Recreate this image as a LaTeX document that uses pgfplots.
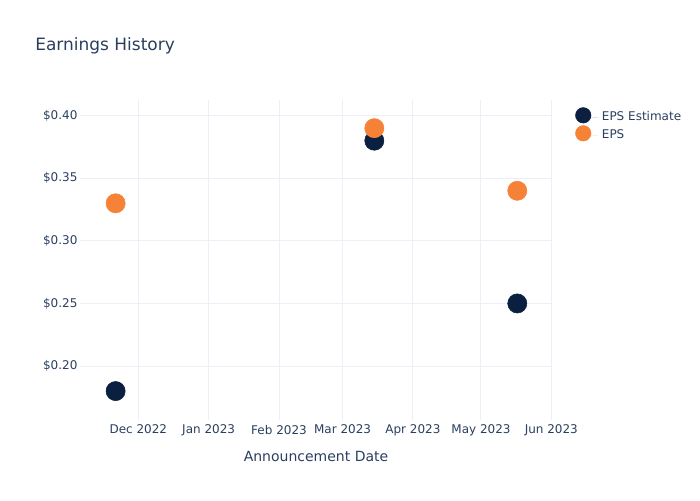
\documentclass[border=0pt]{standalone}
\usepackage{pgfplots}
\pgfplotsset{compat=1.18}
\usepackage{fontspec}
\setmainfont{DejaVu Sans}

\definecolor{txt}{HTML}{2A3F5F}
\definecolor{gridc}{HTML}{EBF0F8}
\definecolor{navy}{HTML}{0B1F40}
\definecolor{epsorange}{HTML}{F68237}

% x values: days since 1 Dec 2022
\begin{document}
\begin{tikzpicture}[x=1pt,y=1pt]
\useasboundingbox (0,0) rectangle (525,375);
\node[anchor=west, text=txt, font=\fontsize{12.75}{15}\selectfont, inner sep=0pt] at (26.25,340.5) {Earnings History};
\begin{axis}[
  at={(60pt,60pt)}, anchor=south west,
  scale only axis, width=354pt, height=240pt,
  xmin=-25.7, xmax=182.3,
  ymin=0.1569, ymax=0.4125,
  axis line style={draw=none},
  grid=major,
  major grid style={gridc, line width=0.75pt},
  tick style={draw=none},
  xtick={0,31,62,90,121,151,182},
  xticklabels={Dec 2022,Jan 2023,Feb 2023,Mar 2023,Apr 2023,May 2023,Jun 2023},
  ytick={0.20,0.25,0.30,0.35,0.40},
  yticklabels={\$0.20,\$0.25,\$0.30,\$0.35,\$0.40},
  ticklabel style={text=txt, font=\fontsize{9}{10}\selectfont, inner sep=0pt},
  xticklabel style={anchor=north, yshift=-3.5pt},
  yticklabel style={anchor=east, xshift=-1.7pt},
  xlabel={Announcement Date},
  xlabel style={text=txt, font=\fontsize{10.5}{12}\selectfont, at={(axis description cs:0.5,0)}, anchor=center, yshift=-27pt},
  legend style={draw=none, fill=none, inner sep=0pt, at={(axis description cs:1.0487,0.978)}, anchor=north west,
    font=\fontsize{9}{10}\selectfont, text=txt, row sep=1.5pt, column sep=3pt,
    nodes={inner sep=0pt}},
  legend cell align=left,
  legend image code/.code={\fill[#1] (6pt,1pt) circle (5.8pt); \path[draw=none] (0pt,0pt) rectangle (17pt,0pt);},
  clip=false,
]
\addplot[only marks, mark=*, mark size=7.2pt, draw=navy, fill=navy] coordinates {
  (-10,0.18) (104,0.38) (167,0.25)
};
\addlegendentry{EPS Estimate}
\addplot[only marks, mark=*, mark size=7.2pt, draw=epsorange, fill=epsorange] coordinates {
  (-10,0.33) (104,0.39) (167,0.34)
};
\addlegendentry{EPS}
\end{axis}
\end{tikzpicture}
\end{document}
